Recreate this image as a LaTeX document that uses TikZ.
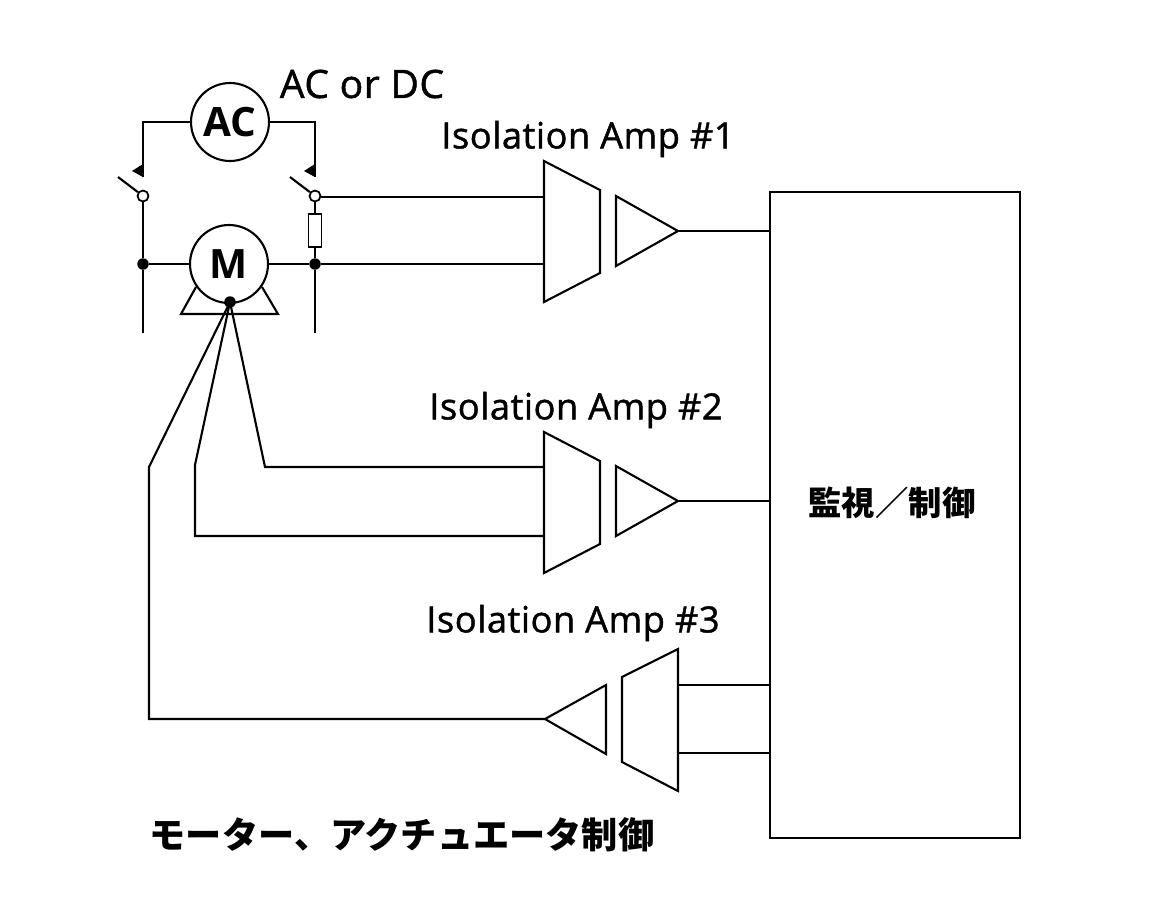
\documentclass[tikz,border=0pt]{standalone}
\usepackage{fontspec}
\setmainfont[FakeBold=1.2,LetterSpace=1.5]{Open Sans}
\newfontfamily\plainfont{Open Sans}
\newfontfamily\jpfont{Noto Sans CJK JP}
\tikzset{
  wire/.style={line width=1.2pt},
  srcround/.style={circle,draw,line width=1.2pt,minimum size=1.56cm,inner sep=0pt,fill=white,font=\plainfont\fontsize{23}{23}\selectfont\bfseries},
  solder/.style={circle,fill=black,inner sep=0pt,minimum size=0.23cm},
  contact/.style={circle,draw,line width=1pt,fill=white,inner sep=0pt,minimum size=0.22cm},
  tip/.style={fill=black,draw=none},
  amplabel/.style={font=\fontsize{20.6}{21}\selectfont},
  srctext/.style={font=\fontsize{22.2}{23}\selectfont},
  jplabel/.style={font=\jpfont\bfseries\fontsize{19}{20}\selectfont},
  jptitle/.style={font=\jpfont\bfseries\fontsize{20.6}{21}\selectfont}
}
\begin{document}
\begin{tikzpicture}[x=0.02cm,y=-0.02cm]
  \useasboundingbox (0,0) rectangle (1170,904);
  % control block
  \node[draw,wire,minimum width=5cm,minimum height=12.92cm,inner sep=0pt] (ctrl) at (895,515) {};
  \node[jplabel] (ctrllabel) at (892,503) {監視／制御};
  % source and motor
  \node[srcround] (ac) at (230,122) {AC};
  \node[srcround] (motor) at (229,264) {M};
  \node[contact] (swl) at (143,196) {};
  \node[contact] (swr) at (315,196) {};
  \node[solder] (jl) at (143,264) {};
  \node[solder] (jr) at (315,264) {};
  \node[draw,line width=0.7pt,minimum width=0.26cm,minimum height=0.66cm,inner sep=0pt] (shunt) at (315,230.5) {};
  \coordinate (lcorner) at (143,122);
  \coordinate (rcorner) at (315,122);
  \coordinate (ltip) at (143,177);
  \coordinate (rtip) at (315,177);
  \coordinate (lblade) at (118,177);
  \coordinate (rblade) at (290,177);
  \coordinate (lend) at (143,333);
  \coordinate (rend) at (315,333);
  \draw[wire] (ac)--(lcorner)--(ltip);
  \draw[wire] (ac)--(rcorner)--(rtip);
  \fill[tip] (143,164)--(143,177)--(132,171)--cycle;
  \fill[tip] (315,164)--(315,177)--(304,171)--cycle;
  \draw[wire] (lblade)--(swl);
  \draw[wire] (rblade)--(swr);
  \draw[wire] (swl)--(jl)--(lend);
  \draw[wire] (swr)--(shunt);
  \draw[wire] (shunt)--(jr)--(rend);
  \draw[wire] (jl)--(motor);
  \draw[wire] (motor)--(jr);
  \draw[wire] (196,287)--(181,314)--(278,314)--(262,287);
  \node[solder] (hub) at (230,302) {};
  % amp 1
  \draw[wire] (544,161)--(600,190)--(600,273)--(544,302)--cycle;
  \draw[wire] (616,196)--(678,231)--(616,266)--cycle;
  \coordinate (a1top) at (544,197);
  \coordinate (a1bot) at (544,264);
  \coordinate (a1out) at (678,231);
  \coordinate (c1) at (770,231);
  \draw[wire] (swr.east |- a1top)--(a1top);
  \draw[wire] (jr)--(a1bot);
  \draw[wire] (a1out)--(c1);
  % amp 2
  \draw[wire] (544,432)--(600,461)--(600,544)--(544,573)--cycle;
  \draw[wire] (616,466)--(678,501)--(616,536)--cycle;
  \coordinate (a2out) at (678,501);
  \coordinate (c2) at (770,501);
  \coordinate (b1) at (265,467);
  \coordinate (b2) at (544,467);
  \coordinate (d1) at (195,465);
  \coordinate (d2) at (195,536);
  \coordinate (d3) at (544,536);
  \draw[wire] (hub.center)--(b1)--(b2);
  \draw[wire] (hub.center)--(d1)--(d2)--(d3);
  \draw[wire] (a2out)--(c2);
  % amp 3
  \draw[wire] (606,685)--(545,719)--(606,754)--cycle;
  \draw[wire] (622,677)--(678,649)--(678,791)--(622,762)--cycle;
  \coordinate (e1) at (149,467);
  \coordinate (e2) at (149,719);
  \coordinate (e3) at (545,719);
  \draw[wire] (hub.center)--(e1)--(e2)--(e3);
  \coordinate (f1) at (678,685);
  \coordinate (f2) at (770,685);
  \coordinate (g1) at (678,753);
  \coordinate (g2) at (770,753);
  \draw[wire] (f1)--(f2);
  \draw[wire] (g1)--(g2);
  % labels
  \node[srctext] (srclabel) at (362,84) {AC or DC};
  \node[amplabel] (a1label) at (588,139) {Isolation Amp \#1};
  \node[amplabel] (a2label) at (576,410) {Isolation Amp \#2};
  \node[amplabel] (a3label) at (573,623) {Isolation Amp \#3};
  \node[jptitle] (title) at (402,835) {モーター、アクチュエータ制御};
\end{tikzpicture}
\end{document}
